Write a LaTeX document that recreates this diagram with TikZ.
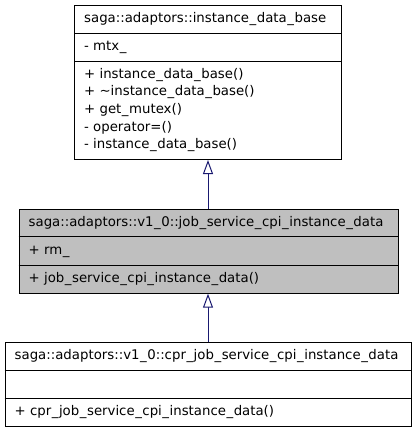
\documentclass[tikz,border=0pt]{standalone}
\usepackage{fontspec}
\setmainfont{DejaVu Sans}
\usetikzlibrary{arrows.meta}
\definecolor{edgeblue}{HTML}{191970}
\definecolor{boxgray}{HTML}{BFBFBF}
\newcommand{\us}{\kern0.55pt\_\kern0.55pt}
\tikzset{
  classbox/.style={draw=black, line width=1pt, inner sep=0pt, anchor=north west},
  divider/.style={draw=black, line width=1pt},
  member/.style={anchor=base west, inner sep=0pt, font=\fontsize{13.3}{16}\selectfont},
  inherit/.style={draw=edgeblue, line width=1pt, -{Triangle[length=14pt,width=10pt,fill=white]}}
}
\begin{document}
\begin{tikzpicture}[x=1pt,y=-1pt]
\useasboundingbox (0,0) rectangle (416,432);
% top box
\node[classbox, fill=white, minimum width=267pt, minimum height=154pt] (base) at (74,5) {};
\draw[divider] (74,33.3) -- (341,33.3);
\draw[divider] (74,61.7) -- (341,61.7);
\node[member] (bh) at (84,22.7) {saga::adaptors::instance\us data\us base};
\node[member] (ba) at (84,50.7) {- mtx\us};
\node[member] (bm1) at (84,78.3) {+ instance\us data\us base()};
\node[member] (bm2) at (84,95.9) {+ \char"7E instance\us data\us base()};
\node[member] (bm3) at (84,113.5) {+ get\us mutex()};
\node[member] (bm4) at (84,131.1) {- operator=()};
\node[member] (bm5) at (84,148.7) {- instance\us data\us base()};
% middle box
\node[classbox, fill=boxgray, minimum width=379pt, minimum height=84.2pt] (mid) at (18.5,208.5) {};
\draw[divider] (18.5,236.7) -- (397.5,236.7);
\draw[divider] (18.5,265) -- (397.5,265);
\node[member] (mh) at (28.5,226) {saga::adaptors::v1\us 0::job\us service\us cpi\us instance\us data};
\node[member] (ma) at (28.5,254) {+ rm\us};
\node[member] (mm) at (28.5,282) {+ job\us service\us cpi\us instance\us data()};
% bottom box
\node[classbox, fill=white, minimum width=406.5pt, minimum height=83.7pt] (low) at (4.5,342.3) {};
\draw[divider] (4.5,370) -- (411,370);
\draw[divider] (4.5,398.3) -- (411,398.3);
\node[member] (lh) at (14.5,359.5) {saga::adaptors::v1\us 0::cpr\us job\us service\us cpi\us instance\us data};
\node[member] (lm) at (14.5,415.5) {+ cpr\us job\us service\us cpi\us instance\us data()};
% connectors
\draw[inherit] (mid.north -| base.south) -- (base.south);
\draw[inherit] (low.north -| base.south) -- (mid.south -| base.south);
\end{tikzpicture}
\end{document}
